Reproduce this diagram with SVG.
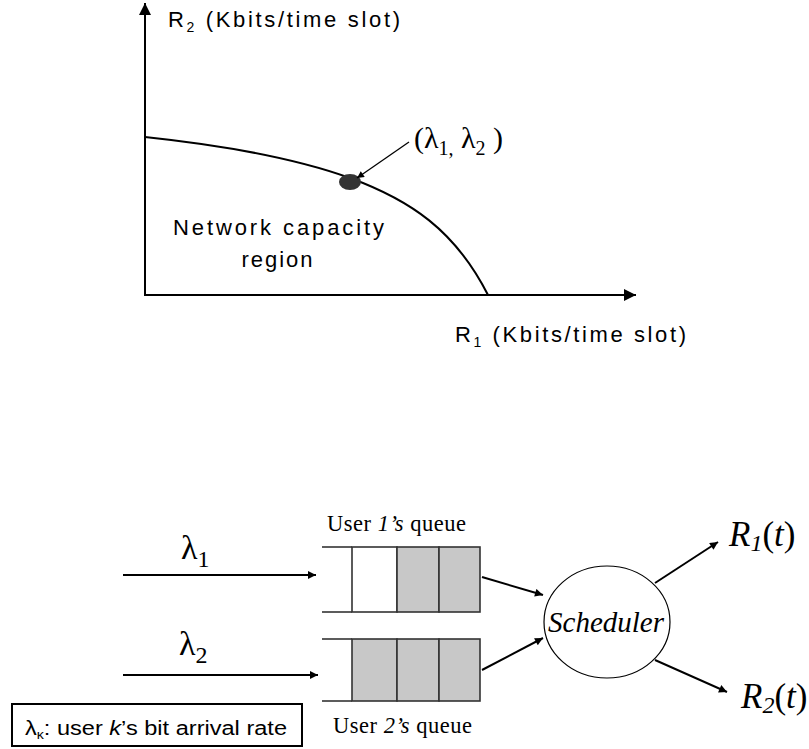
<svg xmlns="http://www.w3.org/2000/svg" width="809" height="749" viewBox="0 0 809 749">
  <defs>
    <style>
      .sans { font-family: "Liberation Sans", Arial, sans-serif; fill: #000; }
      .serif { font-family: "Liberation Serif", "Times New Roman", serif; fill: #000; }
      .ital { font-style: italic; }
      .line { stroke: #000; fill: none; }
      .qline { stroke: #333; stroke-width: 1.6; fill: none; }
      .cell { fill: #c8c8c8; stroke: #333; stroke-width: 1.6; }
      .empty { fill: #fff; stroke: #333; stroke-width: 1.6; }
    </style>
    <marker id="head" viewBox="0 0 10 10" refX="10" refY="5" markerWidth="11" markerHeight="8" markerUnits="userSpaceOnUse" orient="auto">
      <path d="M0,0 L10,5 L0,10 Z" fill="#000"/>
    </marker>
    <marker id="headSmall" viewBox="0 0 10 10" refX="10" refY="5" markerWidth="9" markerHeight="7" markerUnits="userSpaceOnUse" orient="auto">
      <path d="M0,0 L10,5 L0,10 Z" fill="#000"/>
    </marker>
    <marker id="axisHead" viewBox="0 0 10 10" refX="10" refY="5" markerWidth="15" markerHeight="12" markerUnits="userSpaceOnUse" orient="auto">
      <path d="M0,0 L10,5 L0,10 Z" fill="#000"/>
    </marker>
  </defs>

  <rect x="0" y="0" width="809" height="749" fill="#fff"/>

  <!-- capacity region plot -->
  <g id="plot">
    <line class="line" x1="145" y1="296" x2="145" y2="3" stroke-width="2" marker-end="url(#axisHead)"/>
    <line class="line" x1="144" y1="295" x2="636" y2="295" stroke-width="2" marker-end="url(#axisHead)"/>
    <path class="line" stroke-width="2" d="M145,137 C230,146 300,160 350,178 C410,200 455,230 488,295"/>
    <ellipse cx="350" cy="182" rx="11" ry="8" fill="#333"/>
    <line class="line" x1="409" y1="142" x2="357" y2="178" stroke-width="1.3" marker-end="url(#headSmall)"/>
    <text class="sans" x="168" y="27" font-size="22" textLength="232" lengthAdjust="spacing">R<tspan font-size="14" dy="5">2</tspan><tspan dy="-5"> (Kbits/time slot)</tspan></text>
    <text class="sans" x="455" y="342" font-size="22" textLength="231" lengthAdjust="spacing">R<tspan font-size="14" dy="5">1</tspan><tspan dy="-5"> (Kbits/time slot)</tspan></text>
    <text class="sans" x="173" y="235" font-size="22" textLength="211" lengthAdjust="spacing">Network capacity</text>
    <text class="sans" x="278" y="267" font-size="22" text-anchor="middle" letter-spacing="2">region</text>
    <text class="serif" x="414" y="148" font-size="30">(λ<tspan font-size="20" dy="7">1,</tspan><tspan dy="-7"> λ</tspan><tspan font-size="20" dy="7">2</tspan><tspan dy="-7"> )</tspan></text>
  </g>

  <!-- user 1 queue -->
  <g id="queue1">
    <text class="serif" x="327" y="531" font-size="22.5" textLength="139" lengthAdjust="spacing">User <tspan class="ital">1’s</tspan> queue</text>
    <rect class="empty" x="352" y="547" width="45" height="65"/>
    <rect class="cell" x="397" y="547" width="42" height="65"/>
    <rect class="cell" x="439" y="547" width="41" height="65"/>
    <line class="qline" x1="322" y1="547" x2="352" y2="547"/>
    <line class="qline" x1="322" y1="612" x2="352" y2="612"/>
  </g>

  <!-- user 2 queue -->
  <g id="queue2">
    <rect class="cell" x="352" y="639" width="45" height="62"/>
    <rect class="cell" x="397" y="639" width="42" height="62"/>
    <rect class="cell" x="439" y="639" width="41" height="62"/>
    <line class="qline" x1="322" y1="639" x2="352" y2="639"/>
    <line class="qline" x1="322" y1="701" x2="352" y2="701"/>
    <text class="serif" x="333" y="733" font-size="22.5" textLength="139" lengthAdjust="spacing">User <tspan class="ital">2’s</tspan> queue</text>
  </g>

  <!-- scheduler -->
  <g id="scheduler">
    <ellipse cx="607" cy="622" rx="63" ry="56" fill="#fff" stroke="#000" stroke-width="1.2"/>
    <text class="serif ital" x="606" y="632" font-size="29" text-anchor="middle">Scheduler</text>
  </g>

  <!-- arrival and service labels -->
  <g id="lambda1">
    <text class="serif" x="181" y="559" font-size="34">λ<tspan font-size="24" dy="8">1</tspan></text>
  </g>
  <g id="lambda2">
    <text class="serif" x="179" y="655" font-size="34">λ<tspan font-size="24" dy="8">2</tspan></text>
  </g>
  <g id="rate1">
    <text class="serif ital" x="729" y="546" font-size="35">R<tspan font-size="24" dy="5">1</tspan><tspan dy="-5" font-style="normal">(</tspan>t<tspan font-style="normal">)</tspan></text>
  </g>
  <g id="rate2">
    <text class="serif ital" x="741" y="708" font-size="35">R<tspan font-size="24" dy="5">2</tspan><tspan dy="-5" font-style="normal">(</tspan>t<tspan font-style="normal">)</tspan></text>
  </g>

  <!-- legend -->
  <g id="legend">
    <rect x="12" y="704" width="290" height="42" fill="#fff" stroke="#000" stroke-width="2"/>
    <text class="sans" x="25" y="735" font-size="20" textLength="262" lengthAdjust="spacingAndGlyphs">λ<tspan font-size="12" dy="4">κ</tspan><tspan dy="-4">: user </tspan><tspan font-style="italic">k</tspan>’s bit arrival rate</text>
  </g>

  <!-- connectors -->
  <g id="connectors" stroke="#000" stroke-width="2" fill="none">
    <line x1="123" y1="575" x2="316" y2="575" marker-end="url(#head)"/>
    <line x1="123" y1="675" x2="318" y2="675" marker-end="url(#head)"/>
    <line x1="482" y1="577" x2="543" y2="595" marker-end="url(#head)"/>
    <line x1="482" y1="670" x2="543" y2="638" marker-end="url(#head)"/>
    <line x1="655" y1="583" x2="718" y2="542" marker-end="url(#head)"/>
    <line x1="655" y1="660" x2="727" y2="692" marker-end="url(#head)"/>
  </g>
</svg>
